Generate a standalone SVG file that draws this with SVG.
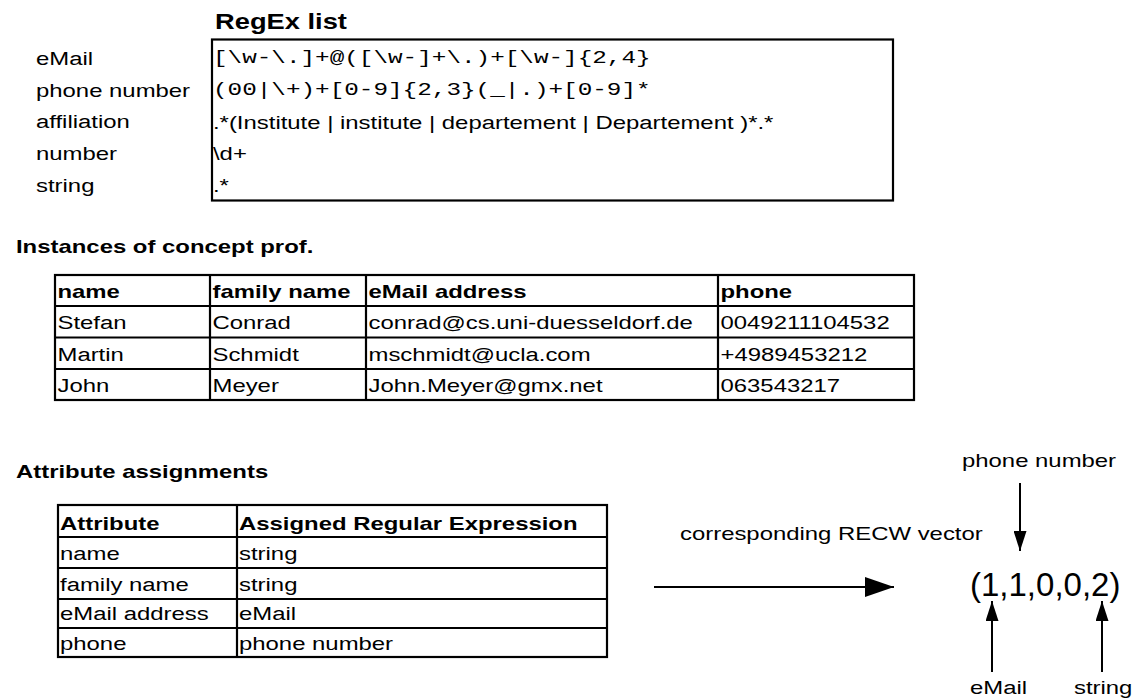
<svg xmlns="http://www.w3.org/2000/svg" width="1143" height="698" viewBox="0 0 1143 698">
<defs>
<style>
text{font-family:"Liberation Sans",Arial,sans-serif;fill:#000;font-size:18.67px}
.b{font-weight:bold}
.title{font-size:21.33px}
.vec{font-size:33px}
.mono{font-family:"Liberation Mono","Courier New",monospace;font-size:19px}
.ln{stroke:#000;stroke-width:2.2;fill:none}
.cn{stroke:#000;stroke-width:2;fill:none}
</style>
<marker id="ah" viewBox="0 0 10 10" refX="10" refY="5" markerWidth="20" markerHeight="13" markerUnits="userSpaceOnUse" orient="auto" preserveAspectRatio="none">
<path d="M0,0 L10,5 L0,10 Z" fill="#000"/>
</marker>
<marker id="ahl" viewBox="0 0 10 10" refX="10" refY="5" markerWidth="29" markerHeight="20" markerUnits="userSpaceOnUse" orient="auto" preserveAspectRatio="none">
<path d="M0,0 L10,5 L0,10 Z" fill="#000"/>
</marker>
</defs>
<rect width="1143" height="698" fill="#fff"/>

<g id="regex-list">
<rect class="ln" x="212" y="39.5" width="681" height="161"/>
<g transform="scale(1.28 1)">
<text class="b title" x="167.97" y="29">RegEx list</text>
<text x="28.13" y="65">eMail</text>
<text x="28.13" y="97">phone number</text>
<text x="28.13" y="128.5">affiliation</text>
<text x="28.13" y="160">number</text>
<text x="28.13" y="192">string</text>
<text class="mono" x="166.4" y="63">[\w-\.]+@([\w-]+\.)+[\w-]{2,4}</text>
<text class="mono" x="166.4" y="95">(00|\+)+[0-9]{2,3}(_|.)+[0-9]*</text>
<text x="166.4" y="129">.*(Institute | institute | departement | Departement )*.*</text>
<text x="166.4" y="160">\d+</text>
<text x="166.4" y="192">.*</text>
</g>
</g>

<g id="instances">
<rect class="ln" x="55" y="275" width="859" height="125"/>
<path class="ln" d="M210,275V400M366,275V400M718,275V400M55,306H914M55,337.5H914M55,369H914"/>
<g transform="scale(1.28 1)">
<text class="b" x="12.5" y="253">Instances of concept prof.</text>
<text class="b" x="44.92" y="298">name</text>
<text class="b" x="166.02" y="298">family name</text>
<text class="b" x="287.89" y="298">eMail address</text>
<text class="b" x="562.89" y="298">phone</text>
<text x="44.92" y="329.5">Stefan</text>
<text x="166.02" y="329.5">Conrad</text>
<text x="287.89" y="329.5">conrad@cs.uni-duesseldorf.de</text>
<text x="562.89" y="329.5">0049211104532</text>
<text x="44.92" y="361">Martin</text>
<text x="166.02" y="361">Schmidt</text>
<text x="287.89" y="361">mschmidt@ucla.com</text>
<text x="562.89" y="361">+4989453212</text>
<text x="44.92" y="392.5">John</text>
<text x="166.02" y="392.5">Meyer</text>
<text x="287.89" y="392.5">John.Meyer@gmx.net</text>
<text x="562.89" y="392.5">063543217</text>
</g>
</g>

<g id="assignments">
<rect class="ln" x="58" y="505" width="549" height="152"/>
<path class="ln" d="M237,505V657M58,537H607M58,568H607M58,599H607M58,628H607"/>
<g transform="scale(1.28 1)">
<text class="b" x="12.5" y="478">Attribute assignments</text>
<text class="b" x="46.88" y="530">Attribute</text>
<text class="b" x="186.72" y="530">Assigned Regular Expression</text>
<text x="46.88" y="560">name</text>
<text x="186.72" y="560">string</text>
<text x="46.88" y="591">family name</text>
<text x="186.72" y="591">string</text>
<text x="46.88" y="620">eMail address</text>
<text x="186.72" y="620">eMail</text>
<text x="46.88" y="650">phone</text>
<text x="186.72" y="650">phone number</text>
</g>
</g>

<g id="vector">
<text class="vec" x="970" y="596">(1,1,0,0,2)</text>
<g transform="scale(1.28 1)">
<text x="531.25" y="540">corresponding RECW vector</text>
<text x="751.56" y="467">phone number</text>
<text x="757.81" y="694">eMail</text>
<text x="839.06" y="694">string</text>
</g>
</g>

<g id="connectors">
<line class="cn" x1="654" y1="587" x2="894" y2="587" marker-end="url(#ahl)"/>
<line class="cn" x1="1020" y1="483" x2="1020" y2="551" marker-end="url(#ah)"/>
<line class="cn" x1="992" y1="672" x2="992" y2="601" marker-end="url(#ah)"/>
<line class="cn" x1="1102" y1="672" x2="1102" y2="601" marker-end="url(#ah)"/>
</g>
</svg>
